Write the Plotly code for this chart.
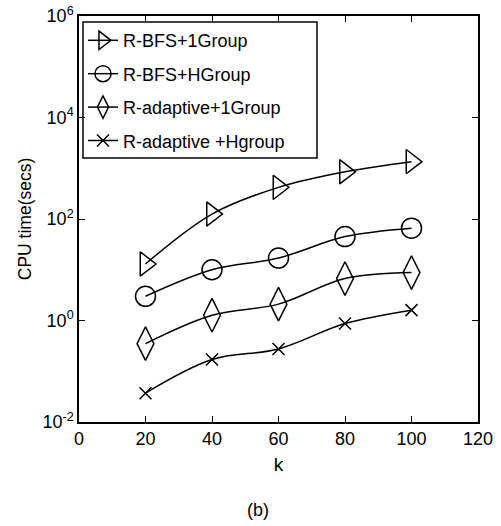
import plotly.graph_objects as go

k = [20, 40, 60, 80, 100]
bfs_1group = [13, 125, 420, 850, 1350]
bfs_hgroup = [3.0, 10, 17, 45, 66]
adaptive_1group = [0.35, 1.27, 2.1, 6.7, 8.8]
adaptive_hgroup = [0.037, 0.17, 0.275, 0.87, 1.6]

series_names = ["R-BFS+1Group", "R-BFS+HGroup", "R-adaptive+1Group", "R-adaptive +Hgroup"]
series_values = [bfs_1group, bfs_hgroup, adaptive_1group, adaptive_hgroup]
series_symbols = ["triangle-right-open", "circle-open", "diamond-tall-open", "x-thin-open"]
series_sizes = [21, 20, 24, 12]

y_tickvals = [1e-2, 1e0, 1e2, 1e4, 1e6]
y_ticktext = ["10<sup>-2</sup>", "10<sup>0</sup>", "10<sup>2</sup>", "10<sup>4</sup>", "10<sup>6</sup>"]
x_tickvals = [0, 20, 40, 60, 80, 100, 120]

FONT = "Liberation Sans Narrow, Arial Narrow, Liberation Sans, sans-serif"

fig = go.Figure()
for i, (name, vals, sym, sz) in enumerate(zip(series_names, series_values, series_symbols, series_sizes)):
    fig.add_trace(go.Scatter(
        x=k, y=vals, name=name, mode="lines+markers",
        legendgroup=f"g{i}",
        line=dict(color="black", width=1.5, shape="spline", smoothing=1),
        marker=dict(symbol=sym, size=sz, color="black", line=dict(width=1.5, color="black")),
    ))

axis_common = dict(
    showline=True, linecolor="black", linewidth=1.5, mirror="ticks",
    ticks="inside", ticklen=6, tickwidth=1, tickcolor="black",
    showgrid=False, zeroline=False, automargin=False,
    tickfont=dict(family=FONT, size=18, color="black"),
)

fig.update_layout(
    width=501, height=526,
    margin=dict(l=79, r=23, t=16, b=104),
    paper_bgcolor="white", plot_bgcolor="white",
    font=dict(family=FONT, size=18, color="black"),
    showlegend=True,
    legend=dict(
        x=0.01, y=0.985, xanchor="left", yanchor="top",
        borderwidth=0, bgcolor="rgba(0,0,0,0)",
        font=dict(family=FONT, size=18, color="black"),
        tracegroupgap=7, itemwidth=30,
    ),
    # frame around the legend, a little wider than the entries
    shapes=[dict(
        type="rect", xref="paper", yref="paper",
        x0=0.010, x1=0.5965, y0=0.650, y1=0.985,
        line=dict(color="black", width=1.5), fillcolor="rgba(0,0,0,0)", layer="above",
    )],
    xaxis=dict(
        range=[0, 120], tickvals=x_tickvals,
        title=dict(text="k", standoff=9, font=dict(family=FONT, size=19)),
        **axis_common,
    ),
    yaxis=dict(
        type="log", range=[-2, 6], tickvals=y_tickvals, ticktext=y_ticktext,
        title=dict(text="CPU time(secs)", standoff=6, font=dict(family=FONT, size=17.5)),
        **axis_common,
    ),
    annotations=[dict(
        text="(b)", x=0.449, y=-0.217, xref="paper", yref="paper",
        xanchor="center", yanchor="middle",
        showarrow=False, font=dict(family=FONT, size=18, color="black"),
    )],
)

fig.write_html("out.html")
